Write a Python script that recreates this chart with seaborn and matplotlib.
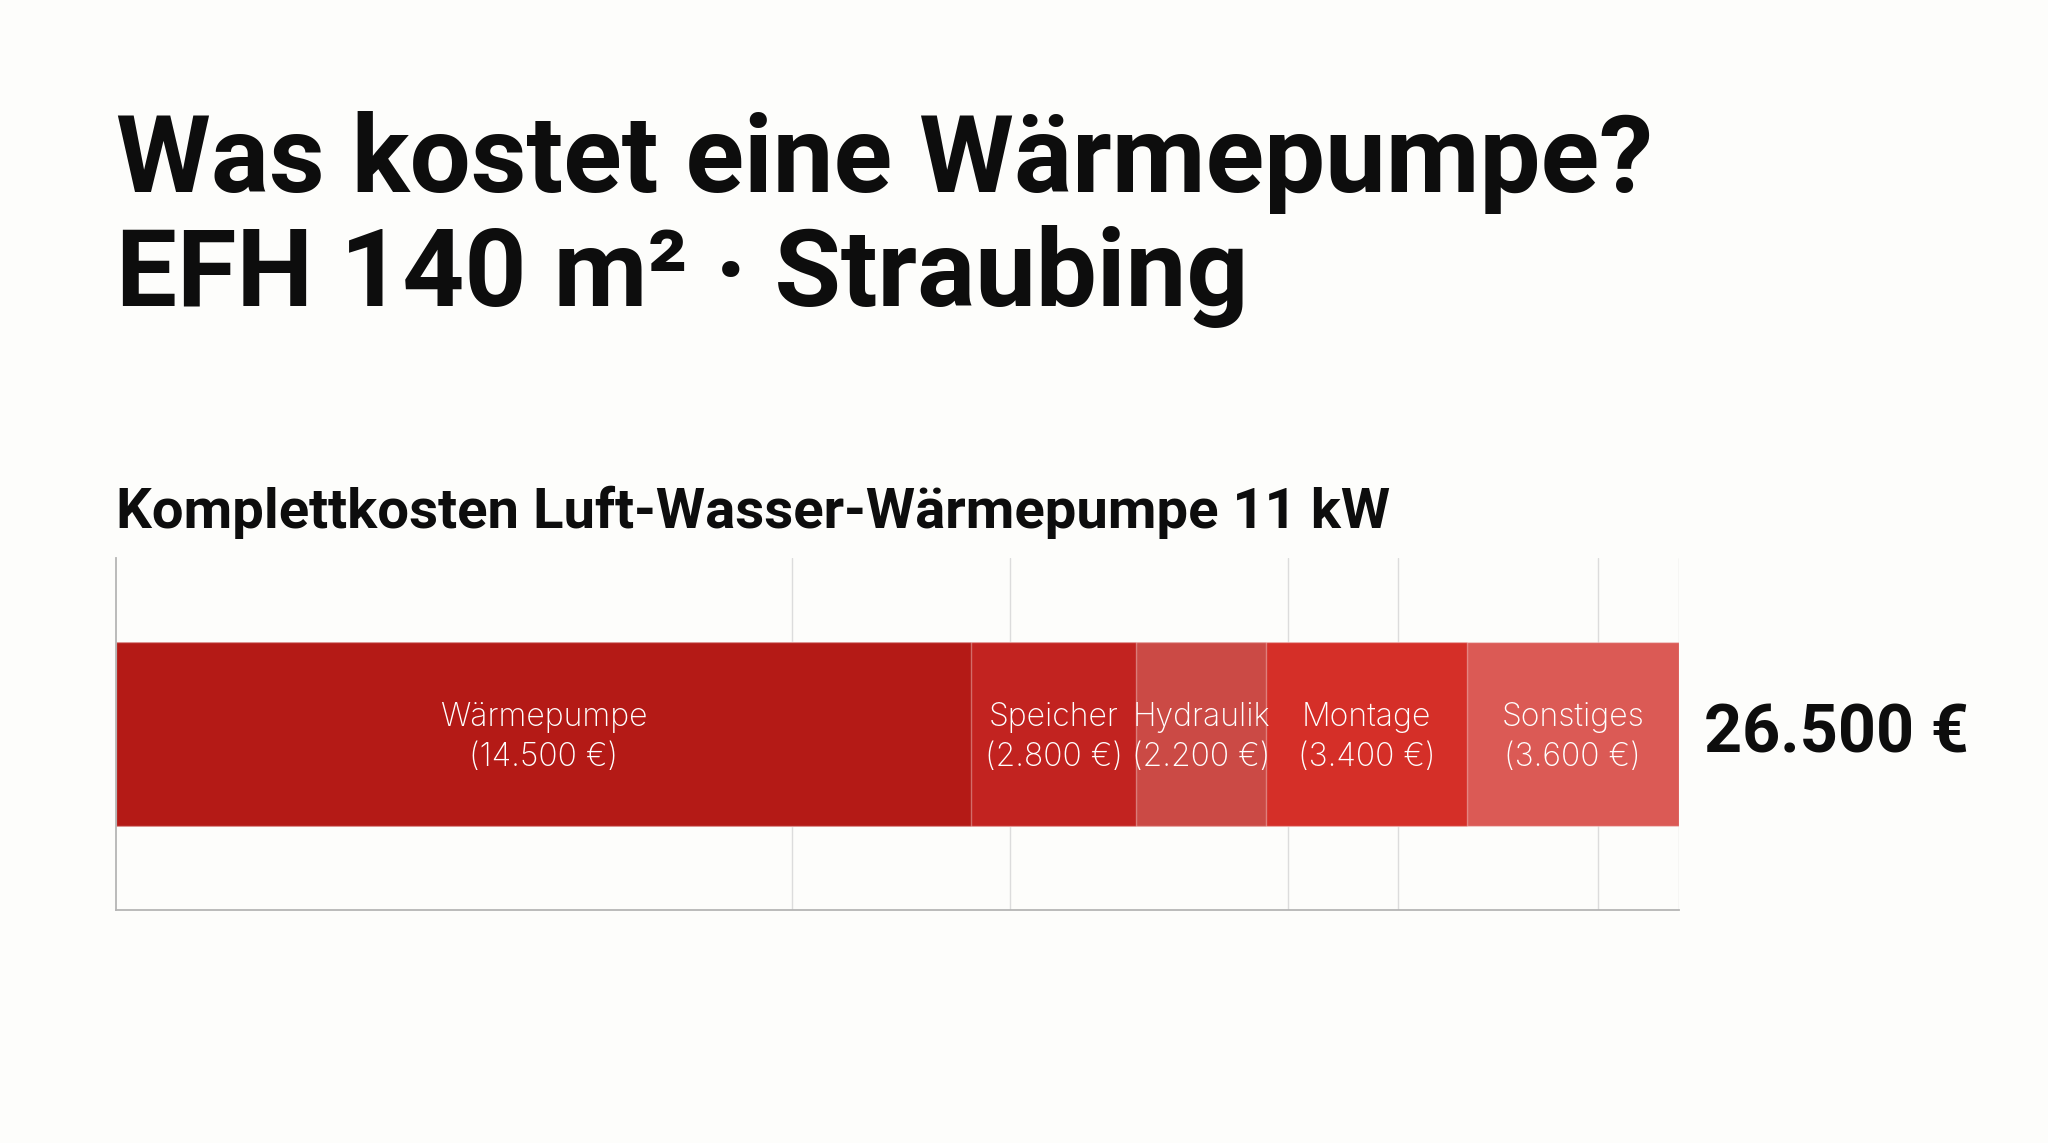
import matplotlib
matplotlib.use("Agg")
import matplotlib.pyplot as plt
import seaborn as sns

# Kostenbestandteile (EUR)
komponenten = ["Wärmepumpe", "Speicher", "Hydraulik", "Montage", "Sonstiges"]
kosten = [14500, 2800, 2200, 3400, 3600]
farben = ["#b41a16", "#c22320", "#cb4a45", "#d52f28", "#db5a55"]

titel_1 = "Was kostet eine Wärmepumpe?"
titel_2 = "EFH 140 m² · Straubing"
untertitel = "Komplettkosten Luft-Wasser-Wärmepumpe 11 kW"


def eur(v):
    return f"{v:,}".replace(",", ".") + " €"


sns.set_theme(style="white")
plt.rcParams["font.family"] = ["Inter", "DejaVu Sans"]
head_font = ["Roboto", "DejaVu Sans"]

bg = "#fdfdfb"
fig = plt.figure(figsize=(20.48, 11.43), dpi=100, facecolor=bg)
ax = fig.add_axes([0.0566, 0.2038, 0.7632, 0.308])
ax.set_facecolor(bg)

gesamt = sum(kosten)
kumuliert = []
s = 0
for k in kosten:
    s += k
    kumuliert.append(s)

# stacked bar: draw cumulative totals from largest to smallest
for name, cum, col in reversed(list(zip(komponenten, kumuliert, farben))):
    sns.barplot(x=[cum], y=["Kosten"], color=col, width=0.523, orient="h",
                edgecolor=(1, 1, 1, 0.35), linewidth=1, saturation=1, ax=ax)

for name, cum, k in zip(komponenten, kumuliert, kosten):
    ax.text(cum - k / 2, 0.01, f"{name}\n({eur(k)})", ha="center", va="center",
            color="white", fontsize=23, fontweight="light", linespacing=1.4)

ax.annotate(eur(gesamt), xy=(gesamt, 0), xytext=(18, 0), textcoords="offset points",
            ha="left", va="center", fontsize=48, fontweight="bold", color="#0d0d0d",
            family=head_font, annotation_clip=False)

ax.set_xlim(0, gesamt)
ax.set_ylim(0.5, -0.5)
ax.set_xticks([11460, 15160, 19880, 21735, 25130, gesamt])
ax.set_xticklabels([])
ax.set_yticks([])
ax.tick_params(length=0)
ax.set_xlabel("")
ax.set_ylabel("")
ax.grid(axis="x", color="#dcdcdc", linewidth=1)
ax.set_axisbelow(True)
for side in ["top", "right"]:
    ax.spines[side].set_visible(False)
for side in ["left", "bottom"]:
    ax.spines[side].set_color("#b5b5b5")
    ax.spines[side].set_linewidth(1.3)

fig.text(0.0566, 1 - 192 / 1143, titel_1, fontsize=78, fontweight="bold",
         color="#0d0d0d", va="baseline", ha="left", family=head_font)
fig.text(0.0566, 1 - 306 / 1143, titel_2, fontsize=78, fontweight="bold",
         color="#0d0d0d", va="baseline", ha="left", family=head_font)
fig.text(0.0566, 1 - 528 / 1143, untertitel, fontsize=40.5, fontweight="bold",
         color="#0d0d0d", va="baseline", ha="left", family=head_font)

fig.savefig("out.png", dpi=100, facecolor=bg)
